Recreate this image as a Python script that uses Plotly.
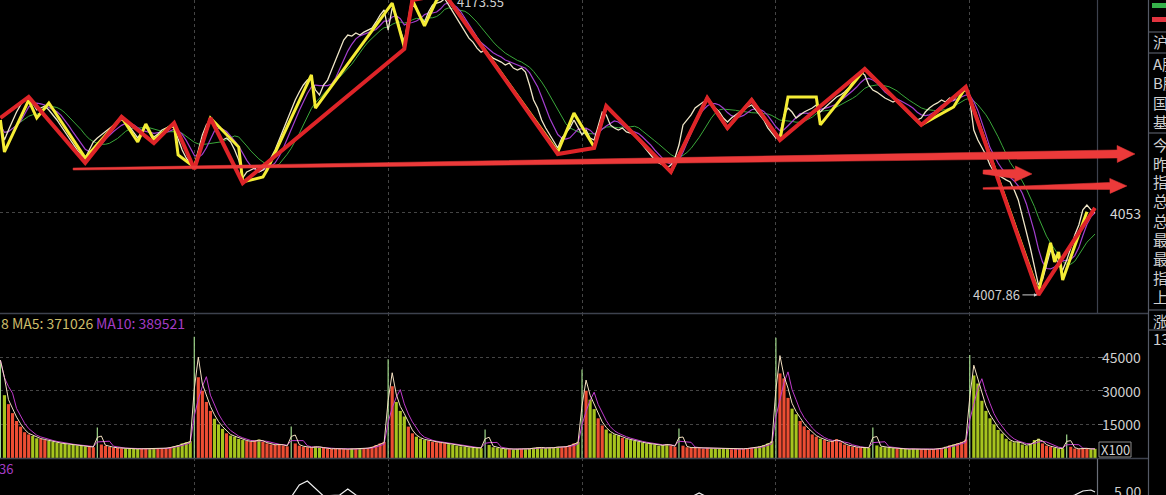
import numpy as np
import pandas as pd
import plotly.graph_objects as go

# ---------------- DATA ----------------
# 5-minute bars, 6 sessions (48 bars per session, last one partial)
close = [
    # session 1
    4101.5, 4093.2, 4098.7, 4104.2, 4108.6, 4112.5, 4115.2, 4116.3, 4113.6, 4109.7,
    4110.8, 4111.9, 4109.7, 4107.0, 4104.2, 4100.9, 4097.6, 4094.3, 4090.4, 4087.7,
    4084.9, 4083.3, 4087.7, 4092.1, 4094.3, 4096.0, 4097.6, 4099.8, 4101.5, 4103.1,
    4104.2, 4103.1, 4100.4, 4097.0, 4094.3, 4097.6, 4100.4, 4097.0, 4094.8, 4096.5,
    4098.7, 4099.8, 4100.9, 4099.8, 4093.2, 4087.7, 4083.3, 4080.5,
    # session 2
    4078.9, 4087.7, 4096.0, 4101.5, 4104.2, 4101.5, 4096.0, 4093.2, 4094.3, 4092.1,
    4087.7, 4082.2, 4072.3, 4075.6, 4076.7, 4077.8, 4075.6, 4076.7, 4079.4, 4083.3,
    4087.7, 4093.2, 4098.7, 4104.2, 4109.7, 4115.2, 4119.6, 4123.5, 4126.2, 4127.3,
    4120.7, 4118.0, 4123.5, 4126.2, 4131.7, 4137.2, 4142.7, 4148.2, 4151.0, 4150.4,
    4152.1, 4151.0, 4152.6, 4153.7, 4154.8, 4158.2, 4162.0, 4164.8,
    # session 3
    4153.7, 4165.9, 4162.0, 4153.7, 4147.1, 4159.3, 4167.5, 4165.9, 4160.4, 4158.2,
    4163.7, 4167.5, 4168.6, 4169.2, 4171.0, 4167.5, 4163.7, 4160.4, 4156.5, 4152.6,
    4149.3, 4147.1, 4143.8, 4141.6, 4142.7, 4140.0, 4138.3, 4137.2, 4136.1, 4134.5,
    4135.6, 4132.8, 4131.7, 4132.8, 4130.6, 4123.5, 4115.2, 4110.8, 4104.2, 4099.8,
    4096.0, 4092.1, 4088.8, 4094.3, 4097.0, 4099.8, 4104.2, 4099.8,
    # session 4
    4096.0, 4098.7, 4094.3, 4093.2, 4101.5, 4108.6, 4107.0, 4101.5, 4099.8, 4098.7,
    4099.8, 4097.6, 4097.0, 4096.0, 4093.2, 4090.4, 4087.7, 4084.9, 4082.2, 4080.5,
    4079.4, 4077.8, 4079.4, 4083.3, 4090.4, 4101.5, 4104.2, 4107.0, 4110.8, 4112.5,
    4114.1, 4115.2, 4113.6, 4110.8, 4108.6, 4105.3, 4103.1, 4105.3, 4107.0, 4108.6,
    4109.7, 4111.4, 4112.5, 4109.7, 4107.0, 4104.2, 4099.8, 4097.0,
    # session 5
    4094.3, 4096.0, 4107.0, 4110.8, 4108.6, 4105.3, 4107.0, 4108.6, 4109.7, 4110.8,
    4112.5, 4108.6, 4110.8, 4113.0, 4115.2, 4116.9, 4118.0, 4119.6, 4121.8, 4125.1,
    4127.3, 4130.6, 4129.0, 4123.5, 4120.7, 4119.6, 4118.0, 4116.3, 4115.2, 4114.1,
    4115.2, 4112.5, 4110.8, 4108.6, 4106.4, 4104.2, 4105.3, 4108.6, 4110.8, 4112.5,
    4113.6, 4115.2, 4114.1, 4116.3, 4115.2, 4118.0, 4119.6, 4120.7,
    # session 6 (partial)
    4115.2, 4098.7, 4093.2, 4088.8, 4084.9, 4079.4, 4075.6, 4073.9, 4072.3, 4071.2,
    4070.1, 4065.7, 4060.2, 4051.9, 4042.6, 4033.7, 4024.4, 4013.4, 4016.1, 4024.4,
    4032.6, 4029.9, 4024.4, 4021.6, 4027.1, 4033.7, 4040.9, 4046.4, 4054.7, 4057.4,
    4054.7, 4053.0,
]

volume = [  # x100
    # session 1
    43600, 28000, 24000, 20000, 16500, 14000, 11500, 10500, 9800, 8800,
    8500, 8000, 7600, 7200, 6800, 6500, 6300, 6000, 5800, 5600,
    5500, 5200, 5000, 4800, 13600, 6000, 5400, 5000, 4600, 4500,
    4300, 4200, 4400, 4100, 4000, 4200, 4100, 4000, 4200, 4100,
    4300, 4500, 4800, 5200, 5800, 6500, 7000, 7500,
    # session 2
    54000, 36000, 30000, 25000, 21000, 17500, 15000, 13000, 11000, 10000,
    9500, 8500, 8000, 7600, 7200, 7800, 8200, 7200, 6500, 6000,
    5800, 6200, 5600, 5200, 14000, 6500, 5500, 5000, 4800, 4600,
    5200, 4800, 4500, 4200, 4000, 4300, 4100, 4000, 3900, 4200,
    4000, 4100, 4300, 4500, 5000, 5800, 6500, 7200,
    # session 3
    44000, 32000, 25000, 21000, 18500, 14000, 11000, 9500, 8600, 8000,
    7800, 7200, 7000, 6800, 6600, 6200, 5800, 5500, 5200, 5000,
    4800, 4600, 4500, 4400, 12700, 5800, 4800, 4500, 4200, 4000,
    3900, 3800, 4100, 4000, 3900, 4300, 4500, 4800, 4600, 4400,
    4500, 4700, 5000, 4800, 5200, 5800, 6500, 7200,
    # session 4
    39500, 30000, 26000, 21800, 17700, 14500, 12700, 11000, 10500, 10000,
    9000, 8400, 8000, 7600, 7200, 6800, 6500, 6200, 6000, 5500,
    5800, 6200, 5500, 5000, 13200, 5500, 4800, 4500, 4700, 4400,
    4200, 4500, 4300, 4200, 4000, 4100, 4000, 3900, 4100, 4000,
    4200, 4300, 4500, 4800, 5200, 5800, 6500, 7500,
    # session 5
    53600, 37700, 35500, 26800, 22000, 19500, 16500, 14100, 12500, 10500,
    9500, 8600, 8000, 7200, 7600, 8400, 7000, 6000, 5500, 5000,
    4800, 4700, 4500, 4600, 13600, 5600, 5000, 4800, 4600, 4400,
    4200, 4100, 4000, 3900, 4100, 4000, 3900, 4000, 3800, 4000,
    4100, 4500, 5000, 5600, 6000, 6500, 7200, 8200,
    # session 6
    45900, 36800, 33200, 25500, 21000, 17700, 15000, 12500, 10900, 8600,
    7500, 7000, 7300, 6000, 5500, 6500, 8000, 8600, 6500, 5500,
    5000, 4500, 4200, 4300, 10500, 5000, 4200, 4000, 4400, 4200,
    3900, 4100,
]

# single-tick spikes drawn as hairlines (session opens and mid-session prints)
spike_idx = [0, 24, 48, 72, 96, 120, 144, 168, 192, 216, 240, 264]

# red wave (zigzag) drawn on the chart: bar index / price
red_wave_idx = [0, 7, 21, 30, 38, 43, 48, 52, 60, 100, 102, 110, 138, 147, 150,
                166, 175, 180, 186, 193, 214, 228, 239, 257, 271]
red_wave_val = [4105.3, 4116.9, 4080.6, 4105.9, 4091.5, 4102.6, 4077.2, 4105.3,
                4069.5, 4143.3, 4170.3, 4173.55, 4085.5, 4088.8, 4111.9, 4075.6,
                4116.3, 4099.8, 4115.2, 4093.2, 4132.3, 4101.5, 4122.4, 4007.86, 4055.8]

# yellow wave (finer zigzag)
yel_wave_idx = [0, 1, 7, 9, 12, 21, 30, 34, 36, 38, 43, 44, 48, 52, 59, 60, 65, 66,
                77, 78, 97, 100, 102, 105, 108, 110, 138, 142, 147, 150, 166, 175,
                180, 186, 193, 195, 202, 203, 214, 228, 236, 239, 257, 260, 261,
                262, 263, 269]
yel_wave_val = [4104.2, 4086.6, 4115.2, 4105.3, 4113.6, 4083.3, 4105.8, 4092.1,
                4102.0, 4093.2, 4102.5, 4085.0, 4078.3, 4105.3, 4089.3, 4070.1,
                4072.8, 4076.7, 4129.0, 4110.8, 4168.6, 4144.4, 4170.3, 4156.0,
                4170.3, 4173.55, 4086.6, 4108.0, 4089.3, 4111.9, 4075.6, 4116.3,
                4099.8, 4115.2, 4093.2, 4116.9, 4116.9, 4101.5, 4132.3, 4101.5,
                4111.4, 4122.4, 4009.5, 4036.5, 4026.0, 4031.5, 4016.1, 4053.6]

# lower indicator pane (mostly below its visible window)
ind_idx = [0, 60, 72, 74, 76, 78, 80, 84, 86, 88, 92, 150, 170, 172, 173, 174,
           176, 200, 262, 266, 268, 270, 271]
ind_val = [3.2, 3.6, 4.4, 5.6, 6.0, 5.3, 4.5, 4.6, 5.2, 4.6, 4.0, 3.6, 4.2, 4.6,
           4.8, 4.6, 4.2, 3.8, 4.0, 4.6, 5.0, 5.1, 4.9]

session_starts = [48, 96, 144, 192, 240]
last_price = 4053
low_idx, low_val = 257, 4007.86
high_idx, high_val = 110, 4173.55
vol_ticks = [15000, 30000, 45000]
vol_tick_text = ["15000", "30000", "45000"]
vol_header_a = "8 MA5: 371026"
vol_header_b = "MA10: 389521"
ind_header = "36"
ind_tick = 5.00
info_labels = ["沪深", "A股", "B股", "国债", "基金", "今开", "昨收", "指数",
               "总手", "总额", "最高", "最低", "指数", "上涨", "涨跌", "1375"]

# hand-drawn arrows on the screenshot (bar index, price)
arrows = [
    dict(tail=(18.0, 4077.2), end=(276.5, 4085.5), tip=(280.9, 4085.5), w0=1.0, w1=4.0, hw=8.5),
    dict(tail=(243.3, 4075.6), end=(251.2, 4074.5), tip=(255.4, 4074.5), w0=2.0, w1=4.5, hw=8.0),
    dict(tail=(243.3, 4066.5), end=(274.7, 4067.9), tip=(278.9, 4067.9), w0=0.8, w1=3.5, hw=7.5),
]

# ---------------- LAYOUT CONSTANTS ----------------
W, H = 1166, 495
PLOT_W = 1097
XR = [-0.1, 271.5]
PR = [3997.9, 4170.3]
VR = [0, 64640]
IR = [4.6, 8.3]
DOM_P = [182 / H, 1.0]
DOM_V = [37 / H, 182 / H]
DOM_I = [0.0, 37 / H]

BG = "#000000"
TXT = "#c9c9c9"
SEP = "#3d424e"
GRID = "#454545"
FONT = "Noto Sans CJK SC, Microsoft YaHei, sans-serif"


def xpaper(i):
    return (i - XR[0]) / (XR[1] - XR[0])


def ypaper_price(p):
    return DOM_P[0] + (p - PR[0]) / (PR[1] - PR[0]) * (DOM_P[1] - DOM_P[0])


def pxx(px):
    return px / PLOT_W


def pxy(py):
    return 1 - py / H


n = len(close)
x = np.arange(n)
cs = pd.Series(close, dtype=float)
ma5 = cs.rolling(5, min_periods=1).mean()
ma10 = cs.rolling(10, min_periods=1).mean()

nv = len(volume)
vs = pd.Series(volume, dtype=float)
vma_fast = vs.rolling(2, min_periods=1).mean()
vma_slow = vs.rolling(4, min_periods=1).mean()
diff = cs.diff().fillna(1.0)
UP, DOWN, SPIKE = "#ec4d33", "#a6c41e", "#9fd68a"
bar_colors = []
bar_widths = []
for i in range(nv):
    if i in spike_idx:
        bar_colors.append(SPIKE)
        bar_widths.append(0.3)
    else:
        bar_colors.append(UP if (i < n and diff[i] >= 0) else DOWN)
        bar_widths.append(0.78)

fig = go.Figure()

# price pane
fig.add_trace(go.Scatter(x=x, y=ma10, mode="lines", line=dict(color="#3aa83a", width=1),
                         xaxis="x", yaxis="y", hoverinfo="skip"))
fig.add_trace(go.Scatter(x=x, y=ma5, mode="lines", line=dict(color="#a43fd0", width=1.2),
                         xaxis="x", yaxis="y", hoverinfo="skip"))
fig.add_trace(go.Scatter(x=x, y=cs, mode="lines", line=dict(color="#efe6c8", width=1.3),
                         xaxis="x", yaxis="y"))
fig.add_trace(go.Scatter(x=yel_wave_idx, y=yel_wave_val, mode="lines",
                         line=dict(color="#f4ec35", width=3), xaxis="x", yaxis="y"))
fig.add_trace(go.Scatter(x=red_wave_idx, y=red_wave_val, mode="lines",
                         line=dict(color="#de2428", width=4), xaxis="x", yaxis="y"))

# volume pane
fig.add_trace(go.Bar(x=np.arange(nv), y=volume, width=bar_widths,
                     marker=dict(color=bar_colors, line=dict(width=0)),
                     xaxis="x2", yaxis="y2"))
fig.add_trace(go.Scatter(x=np.arange(nv), y=vma_slow, mode="lines", line=dict(color="#c03acb", width=1),
                         xaxis="x2", yaxis="y2"))
fig.add_trace(go.Scatter(x=np.arange(nv), y=vma_fast, mode="lines", line=dict(color="#f3dfc0", width=1),
                         xaxis="x2", yaxis="y2"))

# indicator pane
fig.add_trace(go.Scatter(x=ind_idx, y=ind_val, mode="lines", line=dict(color="#f0f0f0", width=1.2),
                         xaxis="x3", yaxis="y3"))

xaxis_common = dict(range=XR, showticklabels=False, zeroline=False, showline=False,
                    tickvals=session_starts, ticks="", showgrid=True, gridcolor=GRID,
                    griddash="dot", gridwidth=1, fixedrange=True)

fig.update_layout(
    width=W, height=H,
    margin=dict(l=0, r=W - PLOT_W, t=0, b=0, pad=0, autoexpand=False),
    paper_bgcolor=BG, plot_bgcolor=BG,
    showlegend=False, hovermode=False,
    font=dict(family=FONT, color=TXT, size=13),
    xaxis=dict(domain=[0, 1], anchor="y", **xaxis_common),
    xaxis2=dict(domain=[0, 1], anchor="y2", matches="x", **xaxis_common),
    xaxis3=dict(domain=[0, 1], anchor="y3", matches="x", **xaxis_common),
    yaxis=dict(domain=DOM_P, range=PR, side="right", tickvals=[last_price], showticklabels=False,
               ticks="", showgrid=True, gridcolor=GRID, griddash="dot", zeroline=False, showline=False),
    yaxis2=dict(domain=DOM_V, range=VR, side="right", tickvals=vol_ticks, showticklabels=False,
                ticks="outside", ticklen=5, tickcolor="#777777",
                showgrid=True, gridcolor=GRID, griddash="dot", zeroline=False, showline=False),
    yaxis3=dict(domain=DOM_I, range=IR, side="right", showticklabels=False, ticks="",
                showgrid=False, zeroline=False, showline=False),
)

shapes = []
# separators
shapes.append(dict(type="line", xref="paper", yref="paper", x0=0, x1=pxx(1148), y0=pxy(313.5), y1=pxy(313.5),
                   line=dict(color=SEP, width=1.5)))
shapes.append(dict(type="line", xref="paper", yref="paper", x0=0, x1=pxx(1148), y0=pxy(458.5), y1=pxy(458.5),
                   line=dict(color=SEP, width=1.5)))
shapes.append(dict(type="line", xref="paper", yref="paper", x0=pxx(1097.5), x1=pxx(1097.5), y0=pxy(0), y1=pxy(313),
                   line=dict(color=SEP, width=1.2)))
shapes.append(dict(type="line", xref="paper", yref="paper", x0=pxx(1097.5), x1=pxx(1097.5), y0=pxy(459), y1=pxy(495),
                   line=dict(color="#6a6e78", width=1.2)))
shapes.append(dict(type="line", xref="paper", yref="paper", x0=pxx(1148.5), x1=pxx(1148.5), y0=0, y1=1,
                   line=dict(color="#555a66", width=1.2)))
for yy in [32, 53, 133, 310, 330]:
    shapes.append(dict(type="line", xref="paper", yref="paper", x0=pxx(1148), x1=pxx(1166), y0=pxy(yy), y1=pxy(yy),
                       line=dict(color="#555a66", width=1.2)))
# legend colour chips in info panel
shapes.append(dict(type="rect", xref="paper", yref="paper", x0=pxx(1152), x1=pxx(1167), y0=pxy(8), y1=pxy(3),
                   fillcolor="#36b24a", line=dict(width=0)))
shapes.append(dict(type="rect", xref="paper", yref="paper", x0=pxx(1152), x1=pxx(1167), y0=pxy(22), y1=pxy(17),
                   fillcolor="#e2343f", line=dict(width=0)))
# X100 box
shapes.append(dict(type="rect", xref="paper", yref="paper", x0=pxx(1099), x1=pxx(1131), y0=pxy(457), y1=pxy(442),
                   fillcolor=BG, line=dict(color="#8a8a8a", width=1)))


def arrow_path(a):
    def to_px(pt):
        return np.array([xpaper(pt[0]) * PLOT_W, (1 - ypaper_price(pt[1])) * H])
    t, e, tp = to_px(a["tail"]), to_px(a["end"]), to_px(a["tip"])
    d = e - t
    d = d / np.linalg.norm(d)
    nrm = np.array([-d[1], d[0]])
    pts = [t + nrm * a["w0"], e + nrm * a["w1"], e + nrm * a["hw"], tp,
           e - nrm * a["hw"], e - nrm * a["w1"], t - nrm * a["w0"]]
    s = ""
    for k, p in enumerate(pts):
        s += ("M" if k == 0 else "L") + f"{p[0] / PLOT_W:.5f},{1 - p[1] / H:.5f} "
    return s + "Z"


for a in arrows:
    shapes.append(dict(type="path", xref="paper", yref="paper", path=arrow_path(a),
                       fillcolor="#ec3a3a", line=dict(color="#ec3a3a", width=0.5), layer="above"))

fig.update_layout(shapes=shapes)

ann = []
ann.append(dict(xref="paper", yref="y", x=pxx(1143), y=last_price, text=str(last_price), showarrow=False,
                xanchor="right", yanchor="middle", font=dict(size=14, color="#d6d6d6")))
for v, t in zip(vol_ticks, vol_tick_text):
    ann.append(dict(xref="paper", yref="y2", x=pxx(1143), y=v, text=t, showarrow=False,
                    xanchor="right", yanchor="middle", font=dict(size=14, color="#cfcfcf")))
ann.append(dict(xref="paper", yref="paper", x=pxx(1115), y=pxy(449.5), text="X100", showarrow=False,
                xanchor="center", yanchor="middle", font=dict(size=13, color="#d6d6d6")))
ann.append(dict(xref="paper", yref="y3", x=pxx(1143), y=ind_tick, text=f"{ind_tick:.2f}", showarrow=False,
                xanchor="right", yanchor="middle", font=dict(size=14, color="#cfcfcf")))
ann.append(dict(xref="x", yref="y", x=low_idx, y=low_val, text=f"{low_val:.2f}", showarrow=True,
                ax=-16, ay=0, xanchor="right", yanchor="middle", arrowhead=2, arrowsize=0.7,
                arrowwidth=1, arrowcolor="#cfcfcf", standoff=1, font=dict(size=13, color="#cfcfcf")))
# the session high sits just above the visible window; its label is cut by the top edge
ann.append(dict(xref="paper", yref="paper", x=xpaper(high_idx + 2.6), y=ypaper_price(high_val),
                yshift=-7, text=f"{high_val:.2f}", showarrow=False, xanchor="left", yanchor="middle",
                font=dict(size=13, color="#cfcfcf")))
ann.append(dict(xref="paper", yref="paper", x=pxx(-1), y=pxy(323), text=vol_header_a, showarrow=False,
                xanchor="left", yanchor="middle", font=dict(size=14, color="#cdbd6a")))
ann.append(dict(xref="paper", yref="paper", x=pxx(94), y=pxy(323), text=vol_header_b, showarrow=False,
                xanchor="left", yanchor="middle", font=dict(size=14, color="#a43cc4")))
ann.append(dict(xref="paper", yref="paper", x=pxx(-3), y=pxy(468), text=ind_header, showarrow=False,
                xanchor="left", yanchor="middle", font=dict(size=13, color="#a43cc4")))
info_y = [42, 64, 83, 102, 121, 144, 163, 182, 201, 220, 239, 258, 277, 296, 320, 338]
for t, yy in zip(info_labels, info_y):
    ann.append(dict(xref="paper", yref="paper", x=pxx(1151), y=pxy(yy), text=t, showarrow=False,
                    xanchor="left", yanchor="middle", font=dict(size=15, color="#cfcfcf")))
fig.update_layout(annotations=ann)

# remove the browser's default 8px page margin so the figure sits at the window origin
fig.write_html("out.html", config={"displayModeBar": False, "staticPlot": True},
               post_script="document.body.style.margin='0';document.body.style.overflow='hidden';")
